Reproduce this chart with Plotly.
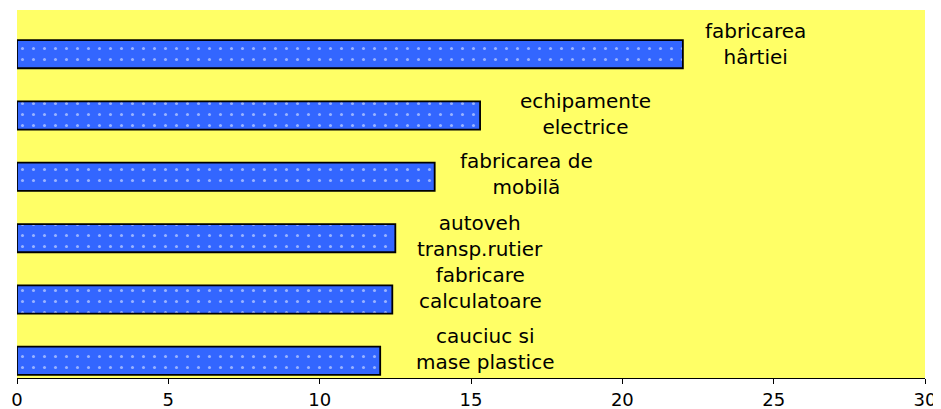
import plotly.graph_objects as go

# categories top to bottom, with line breaks as in the labels
categories = [
    "fabricarea<br>hârtiei",
    "echipamente<br>electrice",
    "fabricarea de<br>mobilă",
    "autoveh<br>transp.rutier",
    "fabricare<br>calculatoare",
    "cauciuc si<br>mase plastice",
]
values = [22.0, 15.3, 13.8, 12.5, 12.4, 12.0]
tick_values = [0, 5, 10, 15, 20, 25, 30]

# label placement (pixel shifts from the bar end)
label_xshift = [73, 105, 92, 85, 88, 105]
label_yshift = [10, 1, 3, 2, 11, 12]

fig = go.Figure()
fig.add_trace(go.Bar(
    x=values,
    y=categories,
    orientation="h",
    width=0.46,
    marker=dict(
        color="#3366FF",
        line=dict(color="black", width=1.8),
        pattern=dict(shape=".", fgcolor="white", bgcolor="#3366FF",
                     size=11, solidity=0.06),
    ),
    hoverinfo="x+y",
))

for cat, val, dx, dy in zip(categories, values, label_xshift, label_yshift):
    fig.add_annotation(
        x=val, y=cat, text=cat, showarrow=False,
        xanchor="center", yanchor="middle",
        xshift=dx, yshift=dy,
        font=dict(family="DejaVu Sans", size=20, color="black"),
    )

# page body has an 8px margin, so the figure is a bit smaller than the window
fig.update_layout(
    width=933, height=401,
    margin=dict(l=9, r=16, t=2, b=31),
    paper_bgcolor="white",
    plot_bgcolor="#FFFF66",
    showlegend=False,
    font=dict(family="DejaVu Sans", size=18, color="black"),
)
fig.update_xaxes(
    range=[0, 30], tickvals=tick_values, showgrid=False, zeroline=False,
    showline=True, linecolor="black", linewidth=1,
    ticks="outside", ticklen=5, tickcolor="black", automargin=False,
)
fig.update_yaxes(
    categoryorder="array", categoryarray=categories[::-1],
    showticklabels=False, showgrid=False, zeroline=False, showline=False,
    range=[-0.28, 5.72], automargin=False,
)

fig.write_html("out.html")
